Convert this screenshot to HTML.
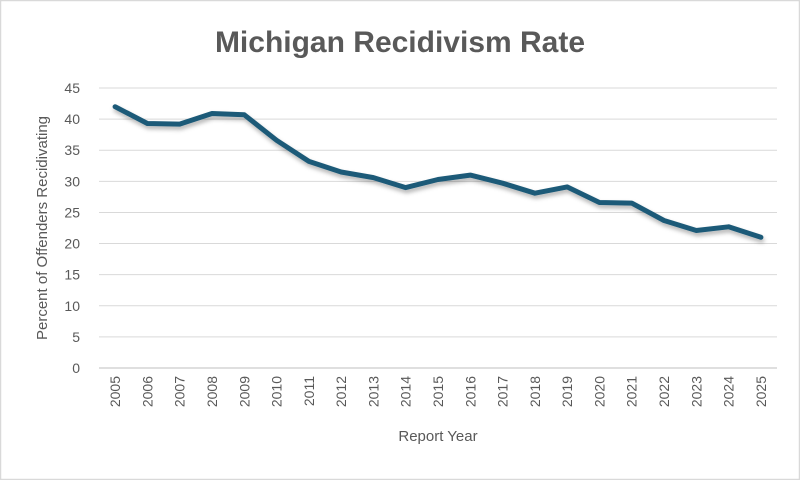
<!DOCTYPE html>
<html><head><meta charset="utf-8"><style>
body{margin:0;background:#fff;}
svg{display:block;font-family:"Liberation Sans",sans-serif;}
</style></head><body>
<svg id="chart" width="800" height="480">
<defs><filter id="sh" x="-5%" y="-5%" width="110%" height="120%"><feDropShadow dx="1" dy="3" stdDeviation="2" flood-color="#000" flood-opacity="0.3"/></filter></defs>
<rect x="0.5" y="0.5" width="799" height="479" fill="none" stroke="#d9d9d9" stroke-width="1.5"/>
<text x="400" y="52" text-anchor="middle" font-size="30" font-weight="bold" fill="#595959">Michigan Recidivism Rate</text>
<g id="grid"></g><g id="yt"></g><g id="xt"></g>
<text transform="translate(47,228) rotate(-90)" text-anchor="middle" font-size="15" fill="#595959">Percent of Offenders Recidivating</text>
<text x="438" y="441" text-anchor="middle" font-size="15" fill="#595959">Report Year</text>
<path id="line" fill="none" stroke="#1d5a78" stroke-width="5" stroke-linejoin="round" stroke-linecap="round" filter="url(#sh)"/>
</svg>
<script>
const years=["2005","2006","2007","2008","2009","2010","2011","2012","2013","2014","2015","2016","2017","2018","2019","2020","2021","2022","2023","2024","2025"];
const rates=[42.0,39.3,39.2,40.9,40.7,36.6,33.2,31.5,30.6,29.0,30.3,31.0,29.7,28.1,29.1,26.6,26.5,23.7,22.1,22.7,21.0];
const yTicks=[0,5,10,15,20,25,30,35,40,45];
const L=99,R=777,T=88,B=368,ymax=45;
const ns="http://www.w3.org/2000/svg";
const step=(R-L)/years.length;
const xs=i=>L+step*(i+0.5);
const ys=v=>B-(v/ymax)*(B-T);
const grid=document.getElementById('grid'),yt=document.getElementById('yt'),xt=document.getElementById('xt');
yTicks.forEach(t=>{
 const l=document.createElementNS(ns,'line');
 l.setAttribute('x1',L);l.setAttribute('x2',R);l.setAttribute('y1',ys(t));l.setAttribute('y2',ys(t));
 l.setAttribute('stroke',t===0?'#bfbfbf':'#d9d9d9');l.setAttribute('stroke-width','1');
 
 
 grid.appendChild(l);
 const tx=document.createElementNS(ns,'text');
 tx.setAttribute('x',80);tx.setAttribute('y',ys(t)+5);tx.setAttribute('text-anchor','end');
 tx.setAttribute('font-size','14');tx.setAttribute('fill','#595959');tx.textContent=t;
 
 
 yt.appendChild(tx);
});
years.forEach((y,i)=>{
 const tx=document.createElementNS(ns,'text');
 tx.setAttribute('transform',`translate(${xs(i)+5},${B+8}) rotate(-90)`);
 tx.setAttribute('text-anchor','end');tx.setAttribute('font-size','14');tx.setAttribute('fill','#595959');
 tx.textContent=y;
 
 
 xt.appendChild(tx);
});
document.getElementById('line').setAttribute('d',rates.map((v,i)=>(i?'L':'M')+xs(i).toFixed(1)+','+ys(v).toFixed(1)).join(' '));
</script>
</body></html>
